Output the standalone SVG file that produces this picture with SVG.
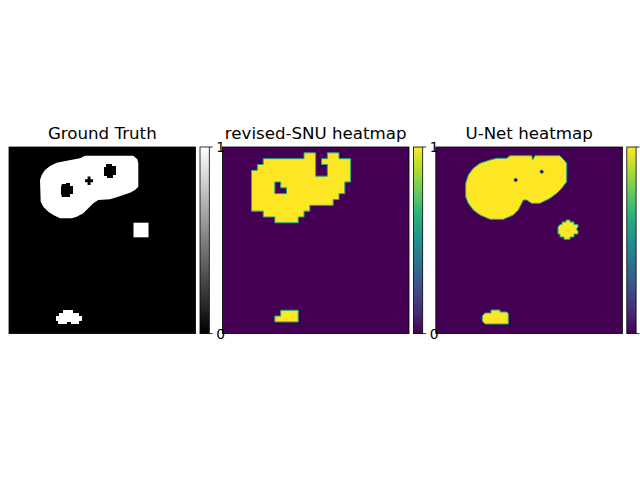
<svg xmlns="http://www.w3.org/2000/svg" width="640" height="480" viewBox="0 0 640 480">
<style>
.title{font-family:"DejaVu Sans",sans-serif;font-size:16.67px;fill:#000;text-anchor:middle}
.tick{font-family:"DejaVu Sans",sans-serif;font-size:13.9px;fill:#000;dominant-baseline:central}
.frame{fill:none;stroke:#000;stroke-width:0.8}
.tk{stroke:#000;stroke-width:0.8}
.yel{fill:#fde725;stroke:#22a884;stroke-width:1;vector-effect:non-scaling-stroke}
.hole{fill:#440154;stroke:#22a884;stroke-width:1;vector-effect:non-scaling-stroke}
.wh{fill:#fff}
.bk{fill:#000}
</style>
<defs>
<linearGradient id="gray" x1="0" y1="1" x2="0" y2="0">
<stop offset="0" stop-color="#000"/><stop offset="1" stop-color="#fff"/>
</linearGradient>
<linearGradient id="viridis" x1="0" y1="1" x2="0" y2="0">
<stop offset="0" stop-color="#440154"/><stop offset="0.125" stop-color="#472d7b"/><stop offset="0.25" stop-color="#3b528b"/><stop offset="0.375" stop-color="#2c728e"/><stop offset="0.5" stop-color="#21918c"/><stop offset="0.625" stop-color="#28ae80"/><stop offset="0.75" stop-color="#5ec962"/><stop offset="0.875" stop-color="#addc30"/><stop offset="1" stop-color="#fde725"/>
</linearGradient>
</defs>
<rect width="640" height="480" fill="#fff"/>

<g id="panel-gt">
<rect x="9" y="147" width="186.6" height="186.6" fill="#000"/>
<polygon class="wh" points="85,155.7 133.3,155.7 137.3,159.3 138.3,163.3 138.3,186.7 135,190 130,192.7 123.3,195 116.7,197.3 110,199.3 98.3,200 93.3,203.3 88.3,208.3 83.3,213.3 76.7,216.7 71.7,218.3 60,218.3 53.3,215 48.3,211.7 43.3,206.7 40.7,201.7 40,180 41.7,175 45,170 50,166 56.7,162.7 66.7,160.7 80,158.3"/>
<polygon class="bk" points="62,184 66,184 66,183 70,183 70,186 73,186 73,194 70,194 70,197 62,197 61,194 61,187"/>
<polygon class="bk" points="106,164 112,164 112,166 116,166 116,175 113,175 113,178 107,178 107,176 104,176 104,167 106,167"/>
<rect class="bk" x="85" y="179.3" width="8" height="2.9"/>
<rect class="bk" x="87.6" y="176.5" width="2.9" height="8.5"/>
<rect class="wh" x="133.5" y="222.7" width="15" height="14.6"/>
<polygon class="wh" points="63,310 73,310 73,313 79,313 79,316 82,316 82,321 79,321 79,324 71,324 71,322 67,322 67,324 58,324 58,321 56,321 56,316 59,316 59,313 63,313"/>
<rect class="frame" x="9" y="147" width="186.6" height="186.6"/>
<text class="title" x="102.3" y="138.7">Ground Truth</text>
</g>

<g id="panel-snu">
<rect x="222.4" y="147" width="186.6" height="186.6" fill="#440154"/>
<g transform="translate(222.4,147) scale(5.83)">
<polygon class="yel" points="5,11 7,11 7,12 9,12 9,13 13,13 13,12 14,12 14,11 15,11 15,10 19,10 19,9 20,9 20,8 21,8 21,6 22,6 22,2 20,2 20,1 18,1 18,2 17,2 17,3 18,3 18,5 16,5 16,1 14,1 14,2 7,2 7,3 6,3 6,4 5,4"/>
<polygon class="hole" points="9,6 10,6 10,7 11,7 11,8 9,8"/>
<polygon class="yel" points="10,28 13,28 13,30 9,30 9,29 10,29"/>
</g>
<rect class="frame" x="222.4" y="147" width="186.6" height="186.6"/>
<text class="title" x="315.7" y="138.7">revised-SNU heatmap</text>
</g>

<g id="panel-unet">
<rect x="435.8" y="147" width="186.6" height="186.6" fill="#440154"/>
<polygon class="yel" points="510,155.7 531.7,155.7 532.7,160 535,155.7 560,155.7 564,160 566.7,163.3 566.7,181.7 561.7,188.3 556.7,193.3 550,198.3 540,203.3 531.7,203.3 526.7,200 523.3,200 521.7,203.3 518.3,210 513.3,215 503.3,219.3 490,219.3 480,215 473.3,210 468.3,203.3 465.7,196.7 465.7,183.3 468.3,175 473.3,168.3 480,163.3 490,160 496.7,158.3 506.7,158.3"/>
<circle cx="515.7" cy="180" r="1.8" fill="#440154" stroke="#22a884" stroke-width="0.6"/>
<circle cx="541.7" cy="171.7" r="1.8" fill="#440154" stroke="#22a884" stroke-width="0.6"/>
<polygon class="yel" points="566,220 570,220 570,222 574,222 574,224.5 578,224.5 578,227 576.5,229 578,231.5 578,234 574,234 574,237 570,237 570,239.3 564,239.3 564,237 560,237 560,234 558,234 558,227 560,224.5 562,224.5 562,222 566,222"/>
<polygon class="yel" points="491,310 500,310 500,312 507,312 508.3,314 508.3,324 485,324 482.3,321 482.3,316 485,313 491,313"/>
<rect class="frame" x="435.8" y="147" width="186.6" height="186.6"/>
<text class="title" x="529.1" y="138.7">U-Net heatmap</text>
</g>

<g id="colorbar-gt">
<rect x="200" y="147" width="9.3" height="186.6" fill="url(#gray)"/>
<rect class="frame" x="200" y="147" width="9.3" height="186.6"/>
<line class="tk" x1="209.3" y1="147" x2="212.8" y2="147"/>
<line class="tk" x1="209.3" y1="333.6" x2="212.8" y2="333.6"/>
</g>
<g id="colorbar-snu">
<rect x="413.4" y="147" width="9.3" height="186.6" fill="url(#viridis)"/>
<rect class="frame" x="413.4" y="147" width="9.3" height="186.6"/>
<line class="tk" x1="422.7" y1="147" x2="426.2" y2="147"/>
<line class="tk" x1="422.7" y1="333.6" x2="426.2" y2="333.6"/>
</g>
<g id="colorbar-unet">
<rect x="626.8" y="147" width="9.3" height="186.6" fill="url(#viridis)"/>
<rect class="frame" x="626.8" y="147" width="9.3" height="186.6"/>
<line class="tk" x1="636.1" y1="147" x2="639.6" y2="147"/>
<line class="tk" x1="636.1" y1="333.6" x2="639.6" y2="333.6"/>
</g>
<g id="tick-labels">
<text class="tick" x="216.3" y="147">1</text>
<text class="tick" x="216.3" y="333.6">0</text>
<text class="tick" x="429.7" y="147">1</text>
<text class="tick" x="429.7" y="333.6">0</text>
</g>
</svg>
